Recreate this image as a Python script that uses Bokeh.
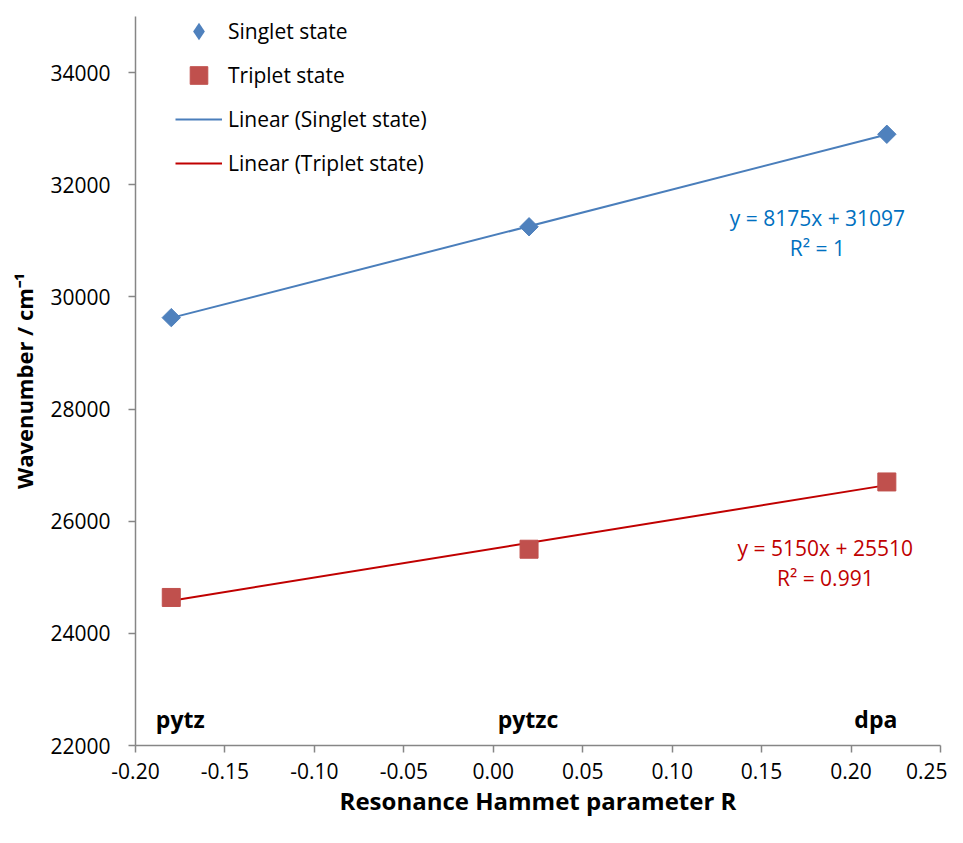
from bokeh.plotting import figure
from bokeh.models import Range1d, FixedTicker, PrintfTickFormatter, Legend, LegendItem, ColumnDataSource
from bokeh.embed import file_html
from bokeh.resources import INLINE
from bokeh.core.properties import value
import math

# ---- data ----
ligands = ["pytz", "pytzc", "dpa"]
hammett_r = [-0.18, 0.02, 0.22]
singlet = [29630, 31250, 32900]
triplet = [24640, 25500, 26700]
singlet_fit = (8175, 31097)
triplet_fit = (5150, 25510)
singlet_eq = ["y = 8175x + 31097", "R² = 1"]
triplet_eq = ["y = 5150x + 25510", "R² = 0.991"]
x_ticks = [-0.20, -0.15, -0.10, -0.05, 0.00, 0.05, 0.10, 0.15, 0.20, 0.25]
y_ticks = [22000, 24000, 26000, 28000, 30000, 32000, 34000]

FONT = "Open Sans"
AXIS_GRAY = "#868686"
BLUE = "#4F81BD"
RED = "#C0504D"
TREND_BLUE = "#4A7EBB"
TREND_RED = "#C00000"
EQ_BLUE = "#0070C0"
EQ_RED = "#C00000"

p = figure(width=947, height=827, output_backend="svg", toolbar_location=None,
           x_range=Range1d(-0.20, 0.25), y_range=Range1d(22000, 35000),
           min_border_left=135, min_border_right=7, min_border_top=16, min_border_bottom=82)
p.outline_line_color = None
p.xgrid.visible = False
p.ygrid.visible = False
p.background_fill_color = "white"
p.border_fill_color = "white"

for ax in (p.xaxis[0], p.yaxis[0]):
    ax.axis_line_color = AXIS_GRAY
    ax.axis_line_width = 1.5
    ax.major_tick_line_color = AXIS_GRAY
    ax.major_tick_line_width = 1.5
    ax.major_tick_in = 0
    ax.major_tick_out = 7
    ax.minor_tick_line_color = None
    ax.major_label_text_font = FONT
    ax.major_label_text_font_size = "21px"
    ax.major_label_text_color = "black"
    ax.axis_label_text_font = FONT
    ax.axis_label_text_font_style = "bold"
    ax.axis_label_text_color = "black"

p.xaxis.ticker = FixedTicker(ticks=x_ticks)
p.xaxis.formatter = PrintfTickFormatter(format="%.2f")
p.xaxis.major_label_standoff = 10
p.xaxis.axis_label = "Resonance Hammet parameter R"
p.xaxis.axis_label_standoff = 2
p.xaxis.axis_label_text_font_size = "24px"

p.yaxis.ticker = FixedTicker(ticks=y_ticks)
p.yaxis.formatter = PrintfTickFormatter(format="%d")
p.yaxis.major_label_standoff = 18
p.yaxis.axis_label = "Wavenumber / cm⁻¹"
p.yaxis.axis_label_standoff = 8
p.yaxis.axis_label_text_font_size = "22px"

src = ColumnDataSource(dict(x=hammett_r, s=singlet, t=triplet, name=ligands,
                            dx=[9, -1, -11]))

x_line = [min(hammett_r), max(hammett_r)]
s_line = [singlet_fit[0] * x + singlet_fit[1] for x in x_line]
t_line = [triplet_fit[0] * x + triplet_fit[1] for x in x_line]

r_s_line = p.line(x_line, s_line, line_color=TREND_BLUE, line_width=2)
r_t_line = p.line(x_line, t_line, line_color=TREND_RED, line_width=2)
r_s = p.scatter("x", "s", source=src, marker="square", angle=math.pi / 4, size=13,
                fill_color=BLUE, line_color=BLUE)
# legend-only diamond (zero size on the plot, the legend sizes it from the glyph box)
r_s_key = p.scatter("x", "s", source=src, marker="diamond", size=0,
                    fill_color=BLUE, line_color=None)
r_t = p.scatter("x", "t", source=src, marker="square", size=18,
                fill_color=RED, line_color=RED)

# ligand names
p.text(x="x", y=22480, text="name", source=src, x_offset="dx", text_align="center",
       text_baseline="middle", text_font=value(FONT), text_font_style="bold",
       text_font_size="23px", text_color="black")

# equations
p.text(x=[0.1812, 0.1812], y=[31413, 30878], text=singlet_eq, text_align="center",
       text_baseline="middle", text_font=value(FONT), text_font_size="21px", text_color=EQ_BLUE)
p.text(x=[0.1856, 0.1856], y=[25530, 24995], text=triplet_eq, text_align="center",
       text_baseline="middle", text_font=value(FONT), text_font_size="21px", text_color=EQ_RED)

legend = Legend(items=[
    LegendItem(label="Singlet state", renderers=[r_s_key]),
    LegendItem(label="Triplet state", renderers=[r_t]),
    LegendItem(label="Linear (Singlet state)", renderers=[r_s_line]),
    LegendItem(label="Linear (Triplet state)", renderers=[r_t_line]),
], location=(40, 560))
legend.border_line_color = None
legend.background_fill_alpha = 0
legend.padding = 0
legend.margin = 0
legend.spacing = 0
legend.label_height = 44
legend.glyph_height = 44
legend.glyph_width = 47
legend.label_standoff = 6
legend.label_text_font = FONT
legend.label_text_font_size = "21px"
legend.label_text_color = "black"
p.add_layout(legend)

open("out.html", "w").write(file_html(p, INLINE))
